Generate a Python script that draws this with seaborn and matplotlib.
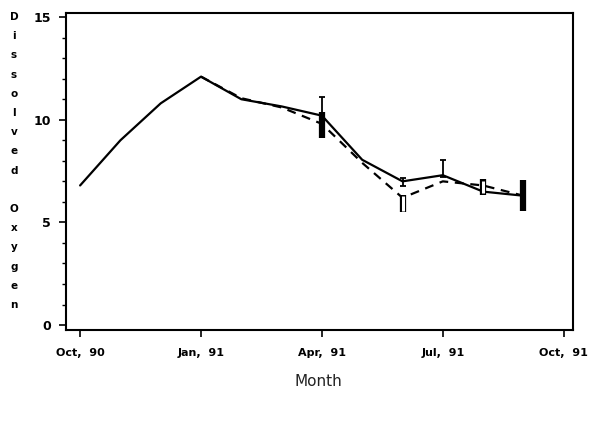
import matplotlib
matplotlib.use("Agg")
import matplotlib.pyplot as plt
import seaborn as sns
import pandas as pd
import numpy as np

# month index: 0 = Oct 90 ... 11 = Sep 91
months = [0, 1, 2, 3, 4, 5, 6, 7, 8, 9, 10, 11]
solid_do = [6.8, 9.0, 10.8, 12.1, 11.0, 10.65, 10.2, 8.05, 7.0, 7.3, 6.5, 6.3]

dash_months = [3, 4, 5, 6, 7, 8, 9, 10, 11]
dash_do = [12.1, 11.05, 10.6, 9.8, 7.9, 6.2, 7.0, 6.8, 6.3]

# error bars (month, lower, upper)
solid_err_months = [6, 8, 9]
solid_err_lo = [0.9, 0.25, 0.1]
solid_err_hi = [0.9, 0.15, 0.75]

dash_err_months = [6, 8, 10, 11]
dash_err_lo = [0.7, 0.7, 0.45, 0.75]
dash_err_hi = [0.6, 0.15, 0.3, 0.75]
dash_err_open = [False, True, True, False]

tick_pos = [0, 3, 6, 9, 12]
tick_labels = ["Oct,  90", "Jan,  91", "Apr,  91", "Jul,  91", "Oct,  91"]
ylabel_letters = list("Dissolved") + [""] + list("Oxygen")

sns.set_style("ticks")
plt.rcParams['font.family'] = ['DejaVu Sans']

fig = plt.figure(figsize=(5.96, 4.23), dpi=100)
ax = fig.add_axes([66 / 596, 1 - 330 / 423, (573 - 66) / 596, (330 - 13) / 423])

df_solid = pd.DataFrame({"month": months, "do": solid_do})
df_dash = pd.DataFrame({"month": dash_months, "do": dash_do})
sns.lineplot(data=df_solid, x="month", y="do", ax=ax, color="black", lw=1.6)
sns.lineplot(data=df_dash, x="month", y="do", ax=ax, color="black", lw=1.6,
             linestyle=(0, (4, 3)))

# solid series error bars
s_map = dict(zip(months, solid_do))
ax.errorbar(solid_err_months, [s_map[m] for m in solid_err_months],
            yerr=[solid_err_lo, solid_err_hi], fmt="none", ecolor="black",
            elinewidth=1.3, capsize=2.5, capthick=1.3)

# dashed series error bars (thick / open)
d_map = dict(zip(dash_months, dash_do))
for m, lo, hi, is_open in zip(dash_err_months, dash_err_lo, dash_err_hi, dash_err_open):
    y = d_map[m]
    ax.errorbar([m], [y], yerr=[[lo], [hi]], fmt="none", ecolor="black",
                elinewidth=4.5, capsize=0)
    if is_open:
        ax.errorbar([m], [y], yerr=[[lo - 0.08], [hi - 0.08]], fmt="none",
                    ecolor="white", elinewidth=2.2, capsize=0)

ax.set_xlim(-0.35, 12.23)
ax.set_ylim(-0.24, 15.2)
ax.set_xticks(tick_pos)
ax.set_xticklabels(tick_labels, fontsize=8, fontweight="bold", color="black")
ax.set_yticks([0, 5, 10, 15])
ax.set_yticks(np.arange(0, 16, 1), minor=True)
ax.set_yticklabels(["0", "5", "10", "15"], fontsize=9, fontweight="bold", color="black")
ax.tick_params(axis="both", which="major", length=5, width=1.2, color="black", pad=6)
ax.tick_params(axis="y", which="minor", length=3, width=1, color="black")
ax.tick_params(axis="x", pad=8)
for sp in ax.spines.values():
    sp.set_visible(True)
    sp.set_color("black")
    sp.set_linewidth(1.5)
ax.set_xlabel("")
ax.set_ylabel("")

# stacked vertical y label
for i, ch in enumerate(ylabel_letters):
    ypx = 17 + i * 19.2
    fig.text(14 / 596, 1 - ypx / 423, ch, fontsize=7.5, fontweight="bold",
             ha="center", va="center", color="black")

fig.text(318 / 596, 1 - 381 / 423, "Month", fontsize=11, ha="center", va="center",
         color="#222222")

fig.savefig("out.png", dpi=100)
